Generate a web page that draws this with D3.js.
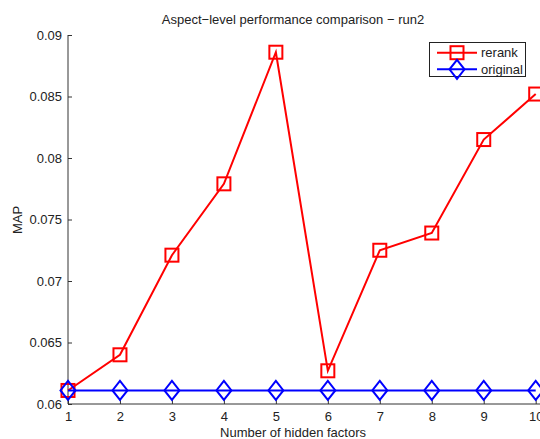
<!DOCTYPE html>
<html>
<head>
<meta charset="utf-8">
<script src="https://cdn.jsdelivr.net/npm/d3@7"></script>
<style>
  body { margin: 0; background: #fff; }
  text { font-family: "Liberation Sans", Arial, sans-serif; fill: #222; }
</style>
</head>
<body>
<div id="chart"></div>
<script>
var factors = [1, 2, 3, 4, 5, 6, 7, 8, 9, 10]
var rerank = [0.0611, 0.0640, 0.0721, 0.0779, 0.0886, 0.0627, 0.0725, 0.0739, 0.0815, 0.0852]
var original = [0.0611, 0.0611, 0.0611, 0.0611, 0.0611, 0.0611, 0.0611, 0.0611, 0.0611, 0.0611]
var yTicks = [0.06, 0.065, 0.07, 0.075, 0.08, 0.085, 0.09]

var width = 540,
    height = 439

var x = d3.scaleLinear().domain([1, 10]).range([68, 535.7])
var y = d3.scaleLinear().domain([0.06, 0.09]).range([404, 35])

var svg = d3.select("#chart").append("svg")
    .attr("width", width)
    .attr("height", height)

// axes (box off, ticks pointing inward)
var yAxis = svg.append("g")
    .attr("transform", "translate(" + x(1) + ",0)")
    .call(d3.axisLeft(y).tickValues(yTicks).tickSize(-4).tickPadding(6)
      .tickFormat(function(d) { return d3.format("")(+d.toFixed(3)) }))
var xAxis = svg.append("g")
    .attr("transform", "translate(0," + y(0.06) + ")")
    .call(d3.axisBottom(x).tickValues(factors).tickSize(-4).tickPadding(8))

svg.selectAll(".domain").remove()
svg.selectAll(".tick line").attr("stroke", "#333")
svg.selectAll(".tick text").style("font-size", "13px").attr("fill", "#222")

svg.append("line")
    .attr("x1", x(1)).attr("x2", x(1))
    .attr("y1", y(0.09)).attr("y2", y(0.06))
    .attr("stroke", "#333")
svg.append("line")
    .attr("x1", x(1)).attr("x2", width)
    .attr("y1", y(0.06)).attr("y2", y(0.06))
    .attr("stroke", "#333")

var line = d3.line()
  .x(function(d, i) { return x(factors[i]) })
  .y(function(d) { return y(d) })

function square(g, cx, cy, color) {
  g.append("rect")
    .attr("x", cx - 6.5).attr("y", cy - 6.5)
    .attr("width", 13).attr("height", 13)
    .attr("fill", "none").attr("stroke", color).attr("stroke-width", 2)
}
function diamond(g, cx, cy, color) {
  g.append("path")
    .attr("d", "M" + cx + "," + (cy - 9.5) + "L" + (cx + 7.5) + "," + cy +
      "L" + cx + "," + (cy + 9.5) + "L" + (cx - 7.5) + "," + cy + "Z")
    .attr("fill", "none").attr("stroke", color).attr("stroke-width", 2)
}

var plot = svg.append("g")

plot.append("path")
    .attr("d", line(rerank))
    .attr("fill", "none").attr("stroke", "#ff0000").attr("stroke-width", 2)
rerank.forEach(function(v, i) { square(plot, x(factors[i]), y(v), "#ff0000") })

plot.append("path")
    .attr("d", line(original))
    .attr("fill", "none").attr("stroke", "#0000ff").attr("stroke-width", 2)
original.forEach(function(v, i) { diamond(plot, x(factors[i]), y(v), "#0000ff") })

// titles
svg.append("text")
    .attr("x", 293).attr("y", 24)
    .attr("text-anchor", "middle")
    .style("font-size", "13px")
    .text("Aspect\u2212level performance comparison \u2212 run2")

svg.append("text")
    .attr("x", 293).attr("y", 437)
    .attr("text-anchor", "middle")
    .style("font-size", "13px")
    .text("Number of hidden factors")

svg.append("text")
    .attr("transform", "translate(22,220) rotate(-90)")
    .attr("text-anchor", "middle")
    .style("font-size", "13px")
    .text("MAP")

// legend
var legend = svg.append("g")
legend.append("rect")
    .attr("x", 429.5).attr("y", 42.5)
    .attr("width", 96).attr("height", 34)
    .attr("fill", "#fff").attr("stroke", "#222").attr("stroke-width", 1)

var entries = [
  {name: "rerank", color: "#ff0000", y: 52.7, mark: square},
  {name: "original", color: "#0000ff", y: 69.3, mark: diamond}
]
entries.forEach(function(e) {
  legend.append("line")
    .attr("x1", 437).attr("x2", 477)
    .attr("y1", e.y).attr("y2", e.y)
    .attr("stroke", e.color).attr("stroke-width", 2)
  e.mark(legend, 457, e.y, e.color)
  legend.append("text")
    .attr("x", 481).attr("y", e.y + 4.5)
    .style("font-size", "13px")
    .text(e.name)
})
</script>
</body>
</html>
